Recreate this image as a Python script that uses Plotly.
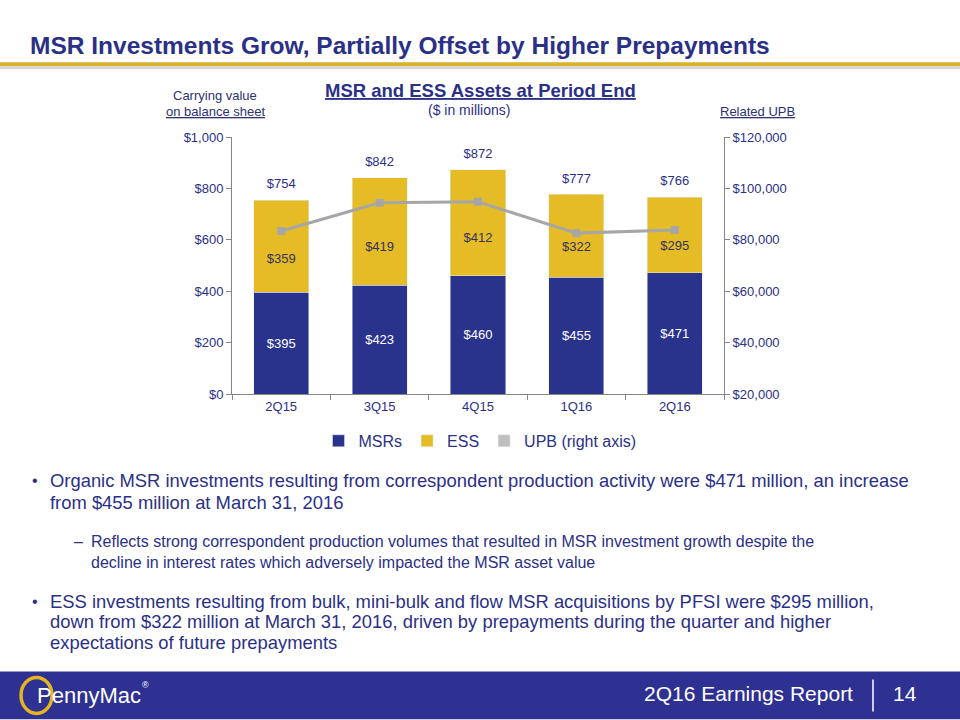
import plotly.graph_objects as go

# ---------------- data ----------------
quarters = ["2Q15", "3Q15", "4Q15", "1Q16", "2Q16"]
msr_values = [395, 423, 460, 455, 471]
ess_values = [359, 419, 412, 322, 295]
upb_values = [83400, 94400, 94800, 82600, 83800]
totals = [m + e for m, e in zip(msr_values, ess_values)]

left_ticks = [0, 200, 400, 600, 800, 1000]
right_ticks = [20000, 40000, 60000, 80000, 100000, 120000]

# ---------------- style ----------------
FONT = "Liberation Sans, Arial, sans-serif"
NAVY = "#29338C"
TEXT_NAVY = "#2B3087"
GOLD = "#E5BC26"
LINE_GOLD = "#D8B22E"
GRAY = "#A6A6A6"
AXIS_GRAY = "#868686"
FOOTER = "#2E3192"

W, H = 960, 720
L, R, T, B = 232, 724, 136.5, 394


def px(x):
    return (x - L) / (R - L)


def py(y):
    return (B - y) / (B - T)


fig = go.Figure()

fig.add_trace(go.Bar(
    x=quarters, y=msr_values, name="MSRs", marker_color=NAVY,
    text=[f"${v}" for v in msr_values], textposition="inside",
    insidetextanchor="middle",
    textfont=dict(color="white", size=13, family=FONT),
    hoverinfo="skip",
))
fig.add_trace(go.Bar(
    x=quarters, y=ess_values, name="ESS", marker_color=GOLD,
    hoverinfo="skip",
))
# legend entry for the UPB series (square swatch like the reference)
fig.add_trace(go.Bar(
    x=quarters, y=[None] * len(quarters), name="UPB (right axis)",
    marker_color="#BFBFBF", legendgroup="upb", hoverinfo="skip",
))
fig.add_trace(go.Scatter(
    x=quarters, y=upb_values, yaxis="y2", mode="lines+markers",
    line=dict(color=GRAY, width=3), marker=dict(symbol="square", size=8, color=GRAY),
    name="UPB (right axis)", legendgroup="upb", showlegend=False, hoverinfo="skip",
))
# ESS value labels, in the lower part of the ESS segment (clear of the UPB line)
fig.add_trace(go.Scatter(
    x=quarters, y=[m + 0.35 * e for m, e in zip(msr_values, ess_values)], mode="text",
    text=[f"${v}" for v in ess_values], textposition="middle center",
    textfont=dict(color="#33335C", size=13, family=FONT),
    showlegend=False, hoverinfo="skip",
))
# total labels above each stack
fig.add_trace(go.Scatter(
    x=quarters, y=totals, mode="markers+text", text=[f"${v}" for v in totals],
    marker=dict(size=12, opacity=0),
    textposition="top center", textfont=dict(color=TEXT_NAVY, size=13, family=FONT),
    showlegend=False, hoverinfo="skip", cliponaxis=False,
))

annotations = []


def add_text(x, y, text, size, color=TEXT_NAVY, xanchor="center"):
    annotations.append(dict(
        xref="paper", yref="paper", x=px(x), y=py(y), text=text, showarrow=False,
        xanchor=xanchor, yanchor="middle", align="left",
        font=dict(size=size, color=color, family=FONT),
    ))


# title
add_text(28, 45, "<b>MSR Investments Grow, Partially Offset by Higher Prepayments</b>", 24.5,
         color=TEXT_NAVY, xanchor="left")
# chart header
add_text(480, 90, "<b><u>MSR and ESS Assets at Period End</u></b>", 18.5, color=TEXT_NAVY)
add_text(469, 109, "($ in millions)", 14, color=TEXT_NAVY)
add_text(215, 95, "Carrying value", 13, color="#2D3270")
add_text(215, 111, "<u>on balance sheet</u>", 13, color="#2D3270")
add_text(757, 111, "<u>Related UPB</u>", 13, color="#2D3270")

# bullets
add_text(30, 481, "•", 16, xanchor="left")
add_text(48, 481, "Organic MSR investments resulting from correspondent production activity were $471 million, an increase", 18.4, xanchor="left")
add_text(48, 503, "from $455 million at March 31, 2016", 18.4, xanchor="left")
add_text(72, 542, "–", 16, xanchor="left")
add_text(89, 542, "Reflects strong correspondent production volumes that resulted in MSR investment growth despite the", 16, xanchor="left")
add_text(89, 563, "decline in interest rates which adversely impacted the MSR asset value", 16, xanchor="left")
add_text(30, 602, "•", 16, xanchor="left")
add_text(48, 602, "ESS investments resulting from bulk, mini-bulk and flow MSR acquisitions by PFSI were $295 million,", 18.4, xanchor="left")
add_text(48, 622, "down from $322 million at March 31, 2016, driven by prepayments during the quarter and higher", 18.4, xanchor="left")
add_text(48, 643, "expectations of future prepayments", 18.4, xanchor="left")

# footer
add_text(855, 694, "2Q16 Earnings Report", 21, color="white", xanchor="right")
add_text(905, 694, "14", 21, color="white")
add_text(35, 696, "PennyMac", 22, color="white", xanchor="left")
add_text(140, 686, "®", 9, color="white", xanchor="left")

shapes = [
    # gold rule + shadow under title
    dict(type="rect", xref="paper", yref="paper", x0=px(0), x1=px(W), y0=py(65.5), y1=py(61.5),
         fillcolor=LINE_GOLD, line=dict(width=0), layer="above"),
    dict(type="rect", xref="paper", yref="paper", x0=px(0), x1=px(W), y0=py(68.5), y1=py(65.5),
         fillcolor="#D6D6D6", line=dict(width=0), layer="above"),
    # footer band
    dict(type="rect", xref="paper", yref="paper", x0=px(0), x1=px(W), y0=py(H), y1=py(672),
         fillcolor=FOOTER, line=dict(width=0), layer="below"),
    dict(type="line", xref="paper", yref="paper", x0=px(873), x1=px(873), y0=py(712), y1=py(680),
         line=dict(color="white", width=1.5)),
    # logo ring
    dict(type="circle", xref="paper", yref="paper", x0=px(21), x1=px(52), y0=py(714), y1=py(678),
         line=dict(color="#E3B521", width=3.5), layer="above"),
]

axis_font = dict(size=13, color=TEXT_NAVY, family=FONT)

fig.update_layout(
    width=W, height=H,
    margin=dict(l=L, r=W - R, t=T, b=H - B, pad=0),
    paper_bgcolor="white", plot_bgcolor="white",
    barmode="stack", bargap=0.44,
    font=dict(family=FONT, color=TEXT_NAVY),
    showlegend=True,
    legend=dict(orientation="h", x=px(480), xanchor="center", y=py(441), yanchor="middle",
                font=dict(size=16, color=TEXT_NAVY, family=FONT), itemwidth=30,
                traceorder="normal", bgcolor="rgba(0,0,0,0)"),
    xaxis=dict(showline=True, linecolor=AXIS_GRAY, linewidth=1, ticks="outside",
               tickson="boundaries", ticklen=5, tickcolor=AXIS_GRAY, tickfont=axis_font,
               showgrid=False, fixedrange=True),
    yaxis=dict(range=[0, 1000], tickvals=left_ticks,
               ticktext=[f"${v:,}" for v in left_ticks],
               showline=True, linecolor=AXIS_GRAY, linewidth=1, ticks="outside", ticklen=5,
               tickcolor=AXIS_GRAY, tickfont=axis_font, showgrid=False, zeroline=False,
               fixedrange=True),
    yaxis2=dict(range=[20000, 120000], tickvals=right_ticks,
                ticktext=[f"${v:,}" for v in right_ticks],
                overlaying="y", side="right", showline=True, linecolor=AXIS_GRAY, linewidth=1,
                ticks="outside", ticklen=5, tickcolor=AXIS_GRAY, tickfont=axis_font,
                showgrid=False, zeroline=False, fixedrange=True),
    annotations=annotations,
    shapes=shapes,
)

fig.write_html("out.html", config={"displayModeBar": False},
               post_script="document.body.style.margin='0px';")
